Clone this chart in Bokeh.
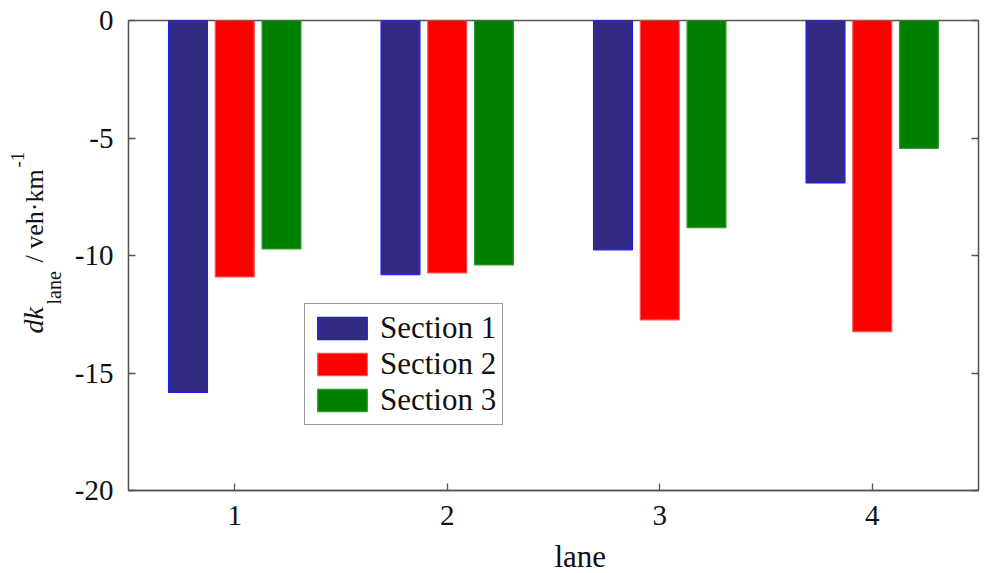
from bokeh.plotting import figure
from bokeh.models import (ColumnDataSource, Range1d, FixedTicker, LinearAxis, Legend,
                          LegendItem, CustomJSTickFormatter)
from bokeh.core.properties import value
from bokeh.layouts import row, column
from bokeh.transform import dodge
from bokeh.embed import file_html
from bokeh.resources import INLINE
import math

# ---- data ----
lanes = [1, 2, 3, 4]
section1 = [-15.83, -10.82, -9.76, -6.91]
section2 = [-10.91, -10.74, -12.74, -13.24]
section3 = [-9.72, -10.40, -8.82, -5.44]
series_names = ["Section 1", "Section 2", "Section 3"]
y_ticks = [-20, -15, -10, -5, 0]
x_label = "lane"
y_label_parts = ["dk", "lane", "/ veh\u00b7km", "-1"]

FONT = "Liberation Serif"
TXT = "#111111"
AX = "#555555"

W, H = 985, 573
LEFT_STRIP = 64      # width of the strip holding the rotated y label
BOTTOM_STRIP = 34    # height of the strip holding the x label
BASE_FIX = 0.43      # empirical baseline correction (fraction of font size)

src = ColumnDataSource(dict(lane=lanes, s1=section1, s2=section2, s3=section3,
                            zero=[0] * len(lanes)))

p = figure(width=W - LEFT_STRIP, height=H - BOTTOM_STRIP, output_backend="svg",
           toolbar_location=None,
           x_range=Range1d(0.5, 4.5), y_range=Range1d(-20, 0),
           min_border_left=128 - LEFT_STRIP, min_border_right=7, min_border_top=20,
           min_border_bottom=(H - BOTTOM_STRIP) - 490)
p.grid.visible = False
p.background_fill_color = "white"
p.border_fill_color = "white"
p.outline_line_color = AX
p.outline_line_width = 1.3

fills = ["#332a82", "#ff0000", "#008000"]
edges = ["#1a1aff", "#ff4d4d", "#2e9a2e"]
cols = ["s1", "s2", "s3"]
offsets = [-0.22, 0.0, 0.22]
renderers = []
for c, off, f, e in zip(cols, offsets, fills, edges):
    r = p.vbar(x=dodge("lane", off), width=0.183, top="zero", bottom=c, source=src,
               fill_color=f, line_color=e, line_width=1.2)
    renderers.append(r)

plain = CustomJSTickFormatter(code="return tick.toString()")
for ax in (p.xaxis[0], p.yaxis[0]):
    ax.axis_line_color = AX
    ax.axis_line_width = 1.3
    ax.major_tick_line_color = AX
    ax.major_tick_line_width = 1.3
    ax.major_tick_in = 7
    ax.major_tick_out = 0
    ax.minor_tick_line_color = None
    ax.major_label_text_font = FONT
    ax.major_label_text_font_size = "29px"
    ax.major_label_text_color = TXT
    ax.formatter = plain
p.yaxis.major_label_standoff = 15
p.xaxis.major_label_standoff = 15

p.xaxis.ticker = FixedTicker(ticks=lanes)
p.yaxis.ticker = FixedTicker(ticks=y_ticks)

# right axis: ticks only
ra = LinearAxis(ticker=FixedTicker(ticks=y_ticks),
                formatter=CustomJSTickFormatter(code="return ''"))
ra.axis_line_color = AX
ra.axis_line_width = 1.3
ra.major_tick_line_color = AX
ra.major_tick_line_width = 1.3
ra.major_tick_in = 7
ra.major_tick_out = 0
ra.minor_tick_line_color = None
ra.major_label_text_font_size = "1px"
ra.major_label_standoff = 0
p.add_layout(ra, "right")

legend = Legend(items=[LegendItem(label=n, renderers=[r]) for n, r in zip(series_names, renderers)],
                location=(176, 65),
                label_text_font=FONT, label_text_font_size="31px", label_text_color=TXT,
                glyph_width=62, glyph_height=28, label_height=28, label_standoff=7,
                spacing=0, padding=6, margin=0,
                border_line_color="#333333", border_line_width=1.2,
                background_fill_color="white", background_fill_alpha=1.0)
p.add_layout(legend, "center")


def strip(width, height):
    f = figure(width=width, height=height, output_backend="svg", toolbar_location=None,
               x_range=Range1d(0, width), y_range=Range1d(0, height),
               min_border=0, min_border_left=0, min_border_right=0,
               min_border_top=0, min_border_bottom=0)
    f.axis.visible = False
    f.grid.visible = False
    f.outline_line_color = None
    f.background_fill_color = "white"
    f.border_fill_color = "white"
    return f


# rotated y label, composed of pieces (baseline x in strip pixels, start y from bottom)
ly = strip(LEFT_STRIP, H)
piece_base_x = [45, 62, 45, 25]
piece_y = [H - 333, H - 304, H - 262, H - 167]
piece_size = [28, 20, 26, 19]
piece_style = ["italic", "normal", "normal", "normal"]
for t, bx, yy, fs, st in zip(y_label_parts, piece_base_x, piece_y, piece_size, piece_style):
    ly.text(x=[bx - BASE_FIX * fs], y=[yy], text=[t], angle=math.pi / 2,
            text_font=value(FONT), text_font_size=f"{fs}px", text_font_style=st,
            text_color=TXT, text_align="left", text_baseline="alphabetic")

# x label strip
lx = strip(W - LEFT_STRIP, BOTTOM_STRIP)
lx.text(x=[(128.5 + 978.5) / 2 - LEFT_STRIP], y=[4 + BASE_FIX * 31], text=[x_label],
        text_font=value(FONT), text_font_size="31px", text_color=TXT,
        text_align="center", text_baseline="alphabetic")

layout = row(ly, column(p, lx, spacing=0), spacing=0)

open("out.html", "w").write(file_html(layout, INLINE))
